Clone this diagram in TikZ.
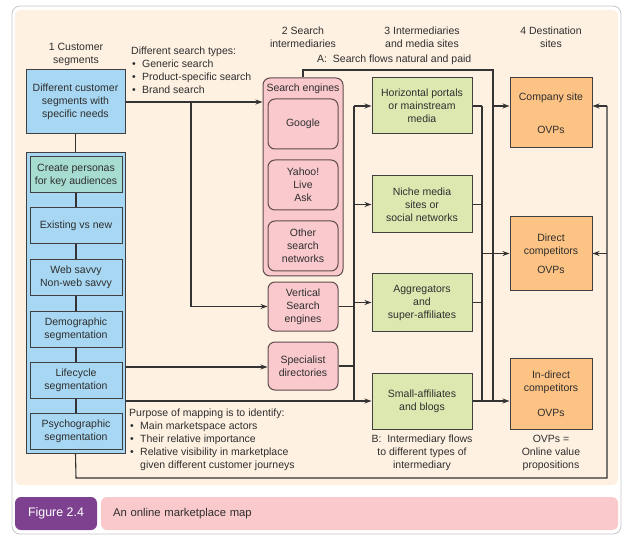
\documentclass[tikz,border=0pt]{standalone}
\usepackage{fontspec}
\setmainfont{Liberation Sans}
\usetikzlibrary{arrows.meta}
\definecolor{bg}{HTML}{FEF1E2}
\definecolor{frame}{HTML}{C8C8C8}
\definecolor{lblue}{HTML}{A7D7F2}
\definecolor{teal}{HTML}{A6DCD2}
\definecolor{pinkbox}{HTML}{F9C9CD}
\definecolor{greenbox}{HTML}{DCE8B0}
\definecolor{orangebox}{HTML}{FDC384}
\definecolor{figpurple}{HTML}{7D4190}
\definecolor{cappink}{HTML}{F9C9CC}
\definecolor{bord}{HTML}{404040}
\definecolor{pbord}{HTML}{604C4C}
\definecolor{txt}{HTML}{2E2E2E}
\definecolor{wire}{HTML}{333333}
\newcommand{\bul}{\makebox[11pt][l]{\hspace{1pt}\textbullet}}
\begin{document}
\begin{tikzpicture}[x=1pt,y=-1pt,
  font=\fontsize{10.5}{13}\selectfont, text=txt,
  box/.style={draw=bord, line width=1pt, align=center, inner sep=0pt},
  seg/.style={box, fill=lblue, minimum width=92, minimum height=36},
  pinkround/.style={box, draw=pbord, fill=pinkbox, rounded corners=7pt, minimum width=70, minimum height=50},
  greenrect/.style={box, fill=greenbox, minimum width=100, minimum height=56},
  orangerect/.style={box, fill=orangebox, minimum width=82},
  lab/.style={align=center, inner sep=0pt},
  wirel/.style={draw=wire, line width=1.1pt},
  arr/.style={wirel, -{Stealth[length=7pt,width=5pt]}}]
\useasboundingbox (0,0) rectangle (624,540);
% frames
\draw[draw=frame, fill=white, rounded corners=8pt, line width=0.8pt] (12,6) rectangle (621,534);
\fill[bg, rounded corners=6pt] (15,10) rectangle (618,485);

% headings
\node[lab] (h1) at (76,54) {1 Customer\\segments};
\node[lab] (h2) at (303,37) {2 Search\\intermediaries};
\node[lab] (h3) at (422,37) {3 Intermediaries\\and media sites};
\node[lab] (h4) at (551,37) {4 Destination\\sites};
\node[lab, anchor=west] (hA) at (317,60) {A:\ \ Search flows natural and paid};

% column 1
\node[box, fill=lblue, minimum width=99, minimum height=64] (custseg) at (75.5,102) {Different customer\\segments with\\specific needs};
\node[box, fill=lblue, minimum width=99, minimum height=300] (cont) at (75.5,303) {};
\node[seg, fill=teal] (pers) at (76,175) {Create personas\\for key audiences};
\node[seg] (exist) at (76,226) {Existing vs new};
\node[seg] (web) at (76,277.5) {Web savvy\\Non-web savvy};
\node[seg] (demo) at (76,329) {Demographic\\segmentation};
\node[seg] (life) at (76,380) {Lifecycle\\segmentation};
\node[seg] (psy) at (76,431) {Psychographic\\segmentation};

\node[lab, anchor=north west, align=left] (types) at (131,47) {Different search types:\\\bul Generic search\\\bul Product-specific search\\\bul Brand search};
\node[lab, anchor=north west, align=left] (purp) at (129,409) {Purpose of mapping is to identify:\\\bul Main marketspace actors\\\bul Their relative importance\\\bul Relative visibility in marketplace\\\hspace*{11pt}given different customer journeys};

% column 2
\node[box, draw=pbord, fill=pinkbox, rounded corners=7pt, minimum width=80, minimum height=198] (seng) at (303,177) {};
\node[lab] (sengl) at (303,89) {Search engines};
\node[pinkround] (goog) at (303,124) {Google};
\node[pinkround] (yahoo) at (303,185) {Yahoo!\\Live\\Ask};
\node[pinkround] (other) at (303,246) {Other\\search\\networks};
\node[pinkround, minimum height=49] (vert) at (303,306.5) {Vertical\\Search\\engines};
\node[pinkround, minimum height=48] (spec) at (303,366) {Specialist\\directories};

% column 3
\node[greenrect] (horiz) at (422,106) {Horizontal portals\\or mainstream\\media};
\node[greenrect, minimum height=57] (niche) at (422,204.5) {Niche media\\sites or\\social networks};
\node[greenrect, minimum height=57] (aggr) at (422,302.5) {Aggregators\\and\\super-affiliates};
\node[greenrect] (small) at (422,401) {Small-affiliates\\and blogs};
\node[lab] (hB) at (422,453) {B:\ \ Intermediary flows\\to different types of\\intermediary};

% column 4
\node[orangerect, minimum height=70] (comp) at (551,113) {Company site\\[20pt]OVPs};
\node[orangerect, minimum height=73] (direct) at (551,253.5) {Direct\\competitors\\[6pt]OVPs};
\node[orangerect, minimum height=71] (indirect) at (551,393.5) {In-direct\\competitors\\[12pt]OVPs};
\node[lab] (ovpnote) at (551,453) {OVPs =\\Online value\\propositions};

% caption
\node[fill=figpurple, rounded corners=6pt, minimum width=82, minimum height=33, inner sep=0pt, text=white, font=\fontsize{12.4}{14}\selectfont] (fig) at (56,513.5) {Figure 2.4};
\node[fill=cappink, rounded corners=6pt, minimum width=517, minimum height=33, inner xsep=12pt, inner ysep=0pt, text width=493, align=left, font=\fontsize{11.3}{13}\selectfont] (cap) at (359.5,513.5) {An online marketplace map};

% coordinates
\coordinate (b1) at (191,102);
\coordinate (mB) at (354,106);
\coordinate (mBb) at (354,401);
\coordinate (cB) at (482,106);
\coordinate (cBb) at (482,401);
\coordinate (atopL) at (303,70);
\coordinate (atopR) at (493,70);
\coordinate (abot) at (493,401);
\coordinate (fbL) at (76,478);
\coordinate (fbR) at (607,478);
\coordinate (fbT) at (607,106);

% connectors column 1
\draw[wirel] (custseg.south) -- (cont.north);
\draw[wirel] (pers.south) -- (exist.north);
\draw[wirel] (exist.south) -- (web.north);
\draw[wirel] (web.south) -- (demo.north);
\draw[wirel] (demo.south) -- (life.north);
\draw[wirel] (life.south) -- (psy.north);

\draw[arr] (custseg.east) -- (custseg.east -| seng.west);
\draw[arr] (b1) |- (vert.west);
\draw[arr] (cont.east |- 0,367) -- (spec.west |- 0,367);
\draw[arr] (cont.east |- small.west) -- (small.west);

% column 2 -> 3
\draw[wirel] (mB) -- (mBb);
\draw[wirel] (vert.east) -- (vert.east -| mB);
\draw[wirel] (spec.east) -- (spec.east -| mB);
\draw[arr] (mB |- horiz.west) -- (horiz.west);
\draw[arr] (mB |- niche.west) -- (niche.west);
\draw[arr] (mB |- aggr.west) -- (aggr.west);

% column 3 -> 4
\draw[wirel] (horiz.east) -- (horiz.east -| cB);
\draw[wirel] (niche.east) -- (niche.east -| cB);
\draw[wirel] (aggr.east) -- (aggr.east -| cB);
\draw[wirel] (cB) -- (cBb);
\draw[arr] (cB |- direct.west) -- (direct.west);
\draw[arr] (small.east) -- (small.east -| indirect.west);

% A flow
\draw[wirel] (seng.north) -- (atopL) -- (atopR) -- (abot);
\draw[arr] (atopR |- horiz.east) -- (comp.west |- horiz.east);

% feedback
\draw[wirel] (cont.south) -- (fbL) -- (fbR) -- (fbT);
\draw[arr] (fbT) -- (comp.east |- fbT);
\draw[arr] (fbR |- direct.east) -- (direct.east);
\end{tikzpicture}
\end{document}
